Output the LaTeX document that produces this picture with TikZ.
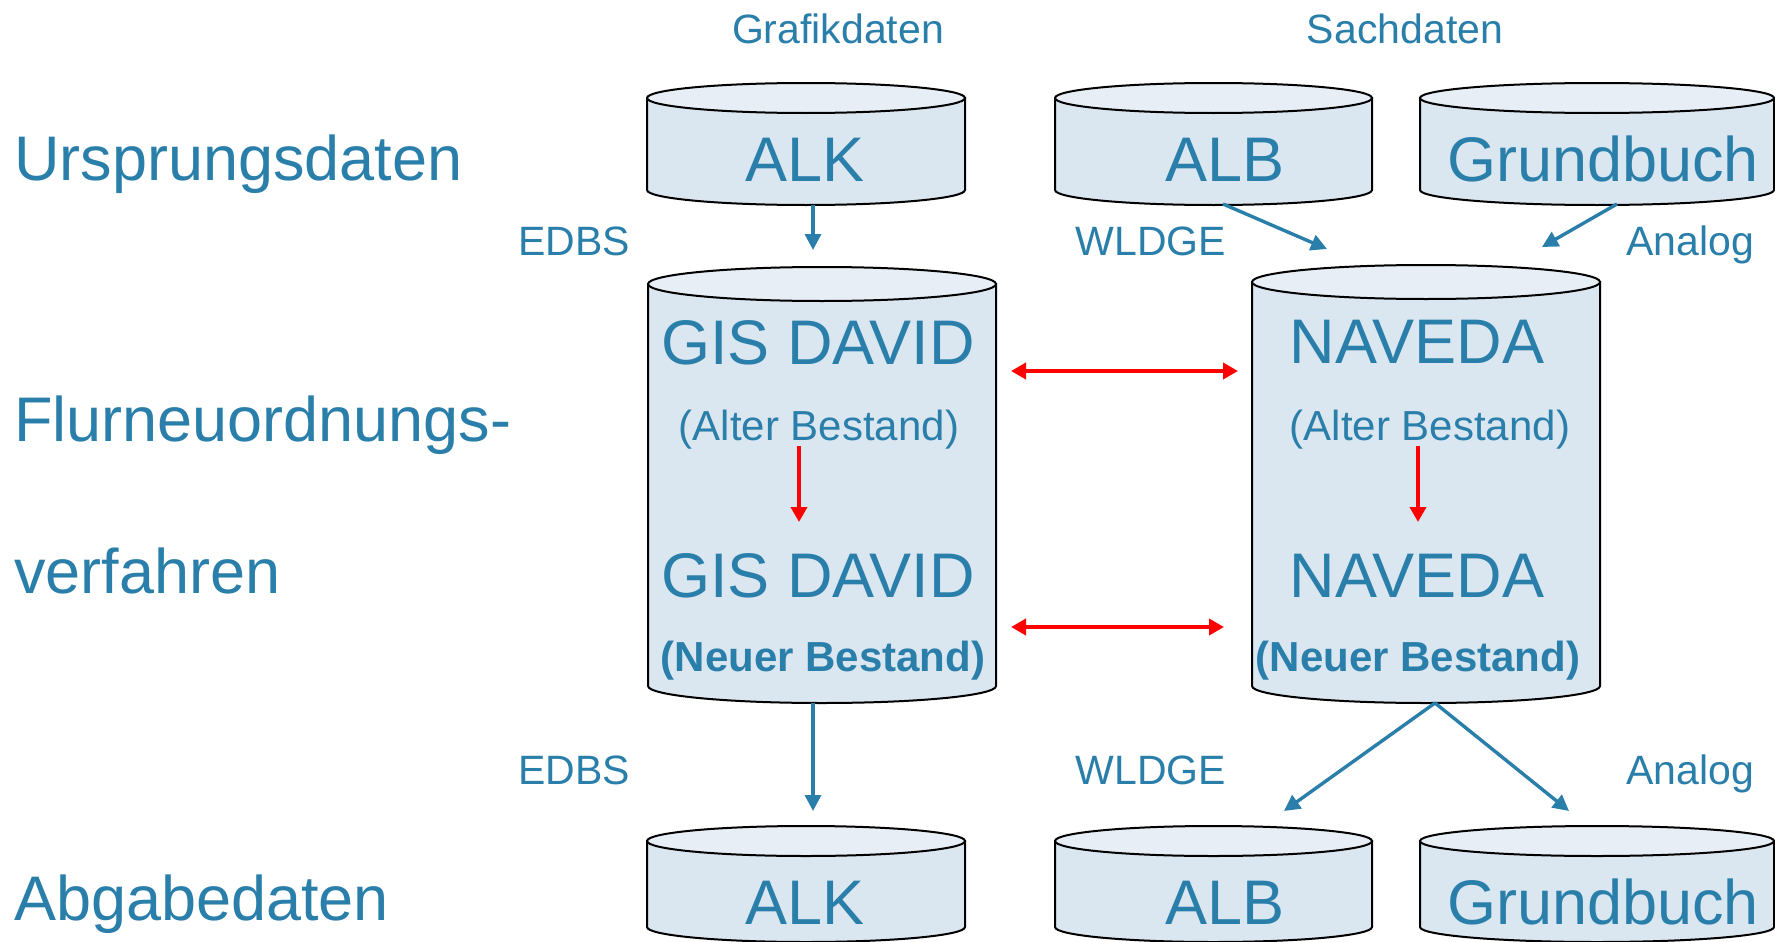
\documentclass[tikz,border=0pt]{standalone}
\usepackage{fontspec}
\setmainfont{Liberation Sans}
\usetikzlibrary{arrows.meta,fit}
\definecolor{txtblue}{RGB}{42,127,170}
\definecolor{cylbody}{RGB}{218,230,240}
\definecolor{cyltop}{RGB}{231,238,245}
\definecolor{arrred}{RGB}{255,0,0}
\newcommand\drawcyl[6]{% name, x1, x2, ytop, ybottom, ry
  \pgfmathsetmacro\cylR{(#3-#2)/2}%
  \pgfmathsetmacro\cylC{(#3+#2)/2}%
  \filldraw[cylline,fill=cylbody] (#2,#4) -- (#2,#5) arc[start angle=180,end angle=360,x radius=\cylR pt,y radius=#6pt] -- (#3,#4) -- cycle;
  \filldraw[cylline,fill=cyltop] (\cylC,#4) ellipse[x radius=\cylR pt,y radius=#6pt];
  \pgfmathsetmacro\cylT{#4-#6}%
  \pgfmathsetmacro\cylB{#5+#6}%
  \node[fit={(#2,\cylT) (#3,\cylB)},inner sep=0pt,draw=none] (#1) {};
}
\begin{document}
\begin{tikzpicture}[x=1pt,y=-1pt,
  cylline/.style={draw=black,line width=2pt},
  big/.style={text=txtblue,inner sep=0pt,font=\fontsize{63}{72}\selectfont},
  mid/.style={text=txtblue,inner sep=0pt,font=\fontsize{42}{50}\selectfont},
  midb/.style={text=txtblue,inner sep=0pt,font=\fontsize{42}{50}\selectfont\bfseries},
  lab/.style={text=txtblue,inner sep=0pt,font=\fontsize{41}{48}\selectfont},
  bluearr/.style={draw=txtblue,line width=3.4pt,-{Triangle[length=16pt,width=16pt]}},
  redarr/.style={draw=arrred,line width=4pt,{Triangle[length=15pt,width=16pt]}-{Triangle[length=15pt,width=16pt]}},
  redarr1/.style={draw=arrred,line width=4pt,-{Triangle[length=15pt,width=16pt]}}
]
\useasboundingbox (0,0) rectangle (1775,942);
\fill[white] (0,0) rectangle (1775,942);

% cylinders
\drawcyl{alkA}{647}{965}{98}{190}{15}
\drawcyl{albA}{1055}{1372}{98}{190}{15}
\drawcyl{gbA}{1420}{1774}{98}{190}{15}
\drawcyl{gis}{648}{996}{284}{686}{17}
\drawcyl{nav}{1252}{1600}{282}{686}{17}
\drawcyl{alkB}{647}{965}{841}{927}{15}
\drawcyl{albB}{1055}{1372}{841}{927}{15}
\drawcyl{gbB}{1420}{1774}{841}{927}{15}

% column headings
\node[lab,anchor=base] (hgraf) at (838,44) {Grafikdaten};
\node[lab,anchor=base] (hsach) at (1405,44) {Sachdaten};

% row headings
\node[big,anchor=base west] (rurs) at (14,180) {Ursprungsdaten};
\node[big,anchor=base west] (rflur) at (14,441) {Flurneuordnungs-};
\node[big,anchor=base west] (rverf) at (14,593) {verfahren};
\node[big,anchor=base west] (rabg) at (14,920) {Abgabedaten};

% cylinder texts
\node[big,anchor=base] (talkA) at (805,181) {ALK};
\node[big,anchor=base] (talbA) at (1225,181) {ALB};
\node[big,anchor=base] (tgbA) at (1603,181) {Grundbuch};
\node[big,anchor=base] (tgis1) at (818,364) {GIS DAVID};
\node[mid,anchor=base] (tgis2) at (819,440) {(Alter Bestand)};
\node[big,anchor=base] (tgis3) at (818,597) {GIS DAVID};
\node[midb,anchor=base] (tgis4) at (823,671) {(Neuer Bestand)};
\node[big,anchor=base] (tnav1) at (1417,363) {NAVEDA};
\node[mid,anchor=base] (tnav2) at (1430,440) {(Alter Bestand)};
\node[big,anchor=base] (tnav3) at (1417,597) {NAVEDA};
\node[midb,anchor=base] (tnav4) at (1418,671) {(Neuer Bestand)};
\node[big,anchor=base] (talkB) at (805,924) {ALK};
\node[big,anchor=base] (talbB) at (1225,924) {ALB};
\node[big,anchor=base] (tgbB) at (1603,924) {Grundbuch};

% transfer labels
\node[lab,anchor=base] (le1) at (574,255) {EDBS};
\node[lab,anchor=base] (lw1) at (1151,255) {WLDGE};
\node[lab,anchor=base] (la1) at (1690,255) {Analog};
\node[lab,anchor=base] (le2) at (574,784) {EDBS};
\node[lab,anchor=base] (lw2) at (1151,784) {WLDGE};
\node[lab,anchor=base] (la2) at (1690,784) {Analog};

% arrow end points
\coordinate (gisin) at (813,250);
\coordinate (navinL) at (1327,249);
\coordinate (navinR) at (1542,247);
\coordinate (albAout) at (1223,204);
\coordinate (gbAout) at (1617,204);
\coordinate (alkBin) at (813,811);
\coordinate (albBin) at (1284,811);
\coordinate (gbBin) at (1569,811);
\coordinate (navout) at (1435,703);
\coordinate (gisout) at (813,703);
\coordinate (alkAout) at (813,205);

% blue arrows
\draw[bluearr] (alkAout) -- (gisin);
\draw[bluearr] (albAout) -- (navinL);
\draw[bluearr] (gbAout) -- (navinR);
\draw[bluearr] (gisout) -- (alkBin);
\draw[bluearr] (navout) -- (albBin);
\draw[bluearr] (navout) -- (gbBin);

% red arrows
\coordinate (r1a) at (1011,371);
\coordinate (r1b) at (1238,371);
\coordinate (r2a) at (1011,627);
\coordinate (r2b) at (1224,627);
\coordinate (v1a) at (799,446);
\coordinate (v1b) at (799,522);
\coordinate (v2a) at (1418,446);
\coordinate (v2b) at (1418,522);
\draw[redarr] (r1a) -- (r1b);
\draw[redarr] (r2a) -- (r2b);
\draw[redarr1] (v1a) -- (v1b);
\draw[redarr1] (v2a) -- (v2b);
\end{tikzpicture}
\end{document}
